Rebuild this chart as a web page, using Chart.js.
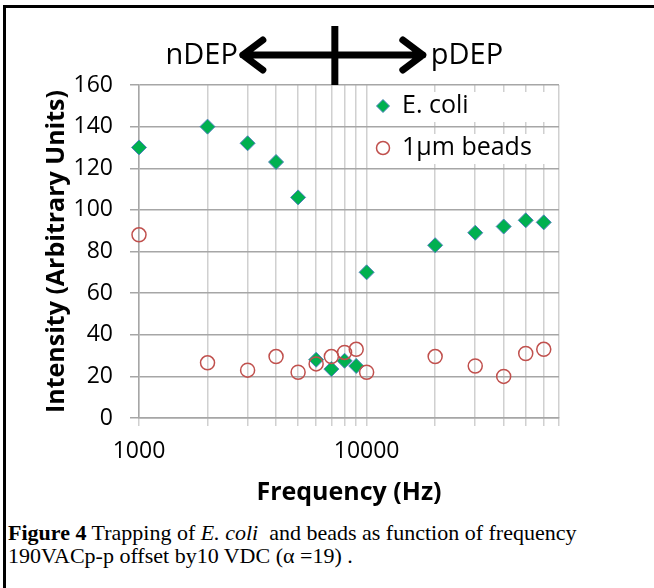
<!DOCTYPE html>
<html>
<head>
<meta charset="utf-8">
<script src="https://cdn.jsdelivr.net/npm/chart.js@4.4.1/dist/chart.umd.min.js"></script>
<style>
  html, body { margin: 0; padding: 0; background: #fff; }
  #figure { position: relative; width: 654px; height: 588px; overflow: hidden; }
  #chart-box { position: absolute; left: 0; top: 0; width: 654px; height: 520px; }
  #frame-top { position: absolute; left: 3px; top: 5px; width: 651px; height: 3px; background: #000; }
  #frame-left { position: absolute; left: 3px; top: 5px; width: 3px; height: 583px; background: #000; }
  #caption { position: absolute; left: 8px; top: 521px; font-family: "Liberation Serif", "Times New Roman", serif; font-size: 22px; line-height: 23px; color: #000; white-space: pre; }
</style>
</head>
<body>
<div id="figure">
  <div id="chart-box"><canvas id="trap-chart" width="654" height="520"></canvas></div>
  <div id="frame-top"></div>
  <div id="frame-left"></div>
  <div id="caption"><b>Figure 4</b> Trapping of <i>E. coli</i>  and beads as function of frequency
190VACp-p offset by10 VDC (α =19) .</div>
</div>
<script>
// frequencies in Hz
const frequencies = [1000, 2000, 3000, 4000, 5000, 6000, 7000, 8000, 9000, 10000, 20000, 30000, 40000, 50000, 60000];
const ecoli = [130, 140, 132, 123, 106, 28, 23.5, 27.5, 25, 70, 83, 89, 92, 95, 94];
const beads = [88, 26.5, 23, 29.5, 22, 26, 29.5, 31.5, 33, 22, 29.5, 25, 20, 31, 33];

// gridlines on the log axis, only decades get a label
const gridFrequencies = [1000, 2000, 3000, 4000, 5000, 6000, 7000, 8000, 9000, 10000, 20000, 30000, 40000, 50000, 60000, 70000];
const labeledFrequencies = [1000, 10000];
const legendLabels = ['E. coli', '1\u00b5m beads'];

const dividerHz = 7250; // where the nDEP / pDEP bar sits

const green = '#00B050';
const blue = '#4F81BD';
const red = '#C0504D';
const font = '"Open Sans", "Noto Sans", sans-serif';

const toPoints = (vals) => frequencies.map((f, i) => ({ x: f, y: vals[i] }));

const decorations = {
    id: 'decorations',
    afterDraw(chart) {
        const ctx = chart.ctx;
        const area = chart.chartArea;
        const xs = chart.scales.x;

        // legend (white boxes behind each entry)
        ctx.save();
        ctx.fillStyle = '#fff';
        ctx.fillRect(369, 92, 188, 30);
        ctx.fillRect(369, 134, 188, 30);

        // diamond
        ctx.beginPath();
        ctx.moveTo(383 - 6.5, 106);
        ctx.lineTo(383, 106 - 6.5);
        ctx.lineTo(383 + 6.5, 106);
        ctx.lineTo(383, 106 + 6.5);
        ctx.closePath();
        ctx.fillStyle = green;
        ctx.fill();
        ctx.strokeStyle = blue;
        ctx.lineWidth = 1;
        ctx.stroke();

        // circle
        ctx.beginPath();
        ctx.arc(383, 148, 6.5, 0, Math.PI * 2);
        ctx.strokeStyle = red;
        ctx.lineWidth = 1.5;
        ctx.stroke();

        ctx.fillStyle = '#000';
        ctx.font = '25px ' + font;
        ctx.textBaseline = 'middle';
        ctx.textAlign = 'left';
        ctx.fillText(legendLabels[0], 402, 106);
        ctx.fillText(legendLabels[1], 402, 148);

        // nDEP <-|-> pDEP arrow
        const xd = xs.getPixelForValue(dividerHz);
        const ya = 55;
        ctx.strokeStyle = '#000';
        ctx.lineWidth = 7;
        ctx.lineCap = 'round';
        ctx.lineJoin = 'round';
        ctx.beginPath();
        ctx.moveTo(xd - 92, ya);
        ctx.lineTo(xd + 88, ya);
        ctx.moveTo(xd - 72, ya - 15);
        ctx.lineTo(xd - 92, ya);
        ctx.lineTo(xd - 72, ya + 15);
        ctx.moveTo(xd + 68, ya - 15);
        ctx.lineTo(xd + 88, ya);
        ctx.lineTo(xd + 68, ya + 15);
        ctx.stroke();

        ctx.lineCap = 'butt';
        ctx.beginPath();
        ctx.moveTo(xd, 26);
        ctx.lineTo(xd, area.top);
        ctx.stroke();

        ctx.font = '29px ' + font;
        ctx.textAlign = 'right';
        ctx.fillText('nDEP', xd - 97, ya + 1);
        ctx.textAlign = 'left';
        ctx.fillText('pDEP', xd + 96, ya + 1);
        ctx.restore();
    }
};

new Chart(document.getElementById('trap-chart'), {
    type: 'scatter',
    data: {
        datasets: [
            {
                label: legendLabels[1],
                data: toPoints(beads),
                pointStyle: 'circle',
                pointRadius: 7,
                pointHoverRadius: 7,
                backgroundColor: 'rgba(0,0,0,0)',
                borderColor: red,
                borderWidth: 1.5,
                clip: false,
                order: 0
            },
            {
                label: legendLabels[0],
                data: toPoints(ecoli),
                pointStyle: 'rectRot',
                pointRadius: 7.5,
                pointHoverRadius: 7.5,
                backgroundColor: green,
                borderColor: blue,
                borderWidth: 1,
                clip: false,
                order: 1
            }
        ]
    },
    options: {
        responsive: false,
        animation: false,
        events: [],
        layout: { padding: { left: 0, top: 85, right: 95, bottom: 0 } },
        plugins: {
            legend: { display: false },
            tooltip: { enabled: false }
        },
        scales: {
            x: {
                type: 'logarithmic',
                min: 1000,
                max: 70000,
                afterBuildTicks: (scale) => {
                    scale.ticks = gridFrequencies.map(v => ({ value: v }));
                },
                afterFit: (scale) => { scale.height = 102; },
                grid: { color: '#d0d0d0', lineWidth: 1.5, tickLength: 8, tickColor: '#d0d0d0' },
                border: { color: '#a6a6a6', width: 1.5 },
                ticks: {
                    autoSkip: false,
                    maxRotation: 0,
                    padding: 12,
                    color: '#000',
                    font: { family: font, size: 23 },
                    callback: (v) => labeledFrequencies.includes(v) ? String(v) : ''
                },
                title: {
                    display: true,
                    text: 'Frequency (Hz)',
                    color: '#000',
                    font: { family: font, size: 25, weight: 'bold' },
                    padding: { top: 0, bottom: 12 }
                }
            },
            y: {
                min: 0,
                max: 160,
                afterFit: (scale) => { scale.width = 139; },
                grid: { color: '#a6a6a6', lineWidth: 1.5, tickLength: 9, tickColor: '#a6a6a6' },
                border: { color: '#a6a6a6', width: 1.5 },
                ticks: {
                    stepSize: 20,
                    padding: 17,
                    color: '#000',
                    font: { family: font, size: 23 }
                },
                title: {
                    display: true,
                    text: 'Intensity (Arbitrary Units)',
                    color: '#000',
                    font: { family: font, size: 25, weight: 'bold' },
                    padding: { top: 42, bottom: 0 }
                }
            }
        }
    },
    plugins: [decorations]
});
</script>
</body>
</html>
